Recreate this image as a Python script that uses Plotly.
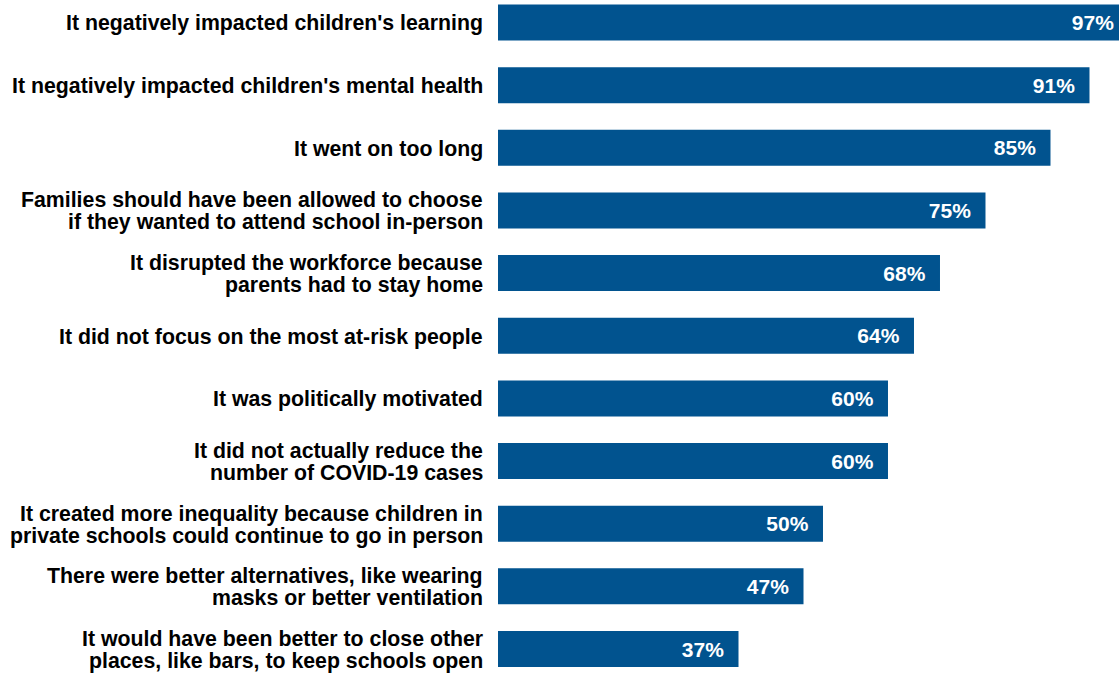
import plotly.graph_objects as go

# Reasons respondents gave (top to bottom) and share agreeing, in percent
reasons = [
    "It negatively impacted children's learning",
    "It negatively impacted children's mental health",
    "It went on too long",
    "Families should have been allowed to choose|if they wanted to attend school in-person",
    "It disrupted the workforce because|parents had to stay home",
    "It did not focus on the most at-risk people",
    "It was politically motivated",
    "It did not actually reduce the|number of COVID-19 cases",
    "It created more inequality because children in|private schools could continue to go in person",
    "There were better alternatives, like wearing|masks or better ventilation",
    "It would have been better to close other|places, like bars, to keep schools open",
]
shares = [97, 91, 85, 75, 68, 64, 60, 60, 50, 47, 37]

BAR_COLOR = "#01538F"
FONT = "Liberation Sans"
NBSP = "\u00a0"

fig = go.Figure(
    go.Bar(
        x=shares,
        y=list(range(len(reasons))),
        orientation="h",
        marker=dict(color=BAR_COLOR, line=dict(width=0)),
        width=0.575,
        # trailing no-break spaces pad the value away from the bar end
        text=[f"{v}%" + NBSP * 2 for v in shares],
        textposition="inside",
        insidetextanchor="end",
        textangle=0,
        textfont=dict(family=FONT, size=21, color="white", weight="bold"),
        hoverinfo="skip",
    )
)

# Category labels, one annotation per text line for tight line spacing
LINE_GAP = 22
annotations = []
for i, label in enumerate(reasons):
    lines = label.split("|")
    n = len(lines)
    for j, line in enumerate(lines):
        annotations.append(
            dict(
                text=line,
                xref="paper",
                x=0,
                xanchor="right",
                xshift=-13,
                yref="y",
                y=i,
                yanchor="middle",
                yshift=((n - 1) / 2 - j) * LINE_GAP - 1,
                showarrow=False,
                align="right",
                font=dict(family=FONT, size=21.3, color="black", weight="bold"),
            )
        )

fig.update_layout(
    width=1119,
    height=675,
    margin=dict(l=498, r=0, t=0, b=0),
    paper_bgcolor="white",
    plot_bgcolor="white",
    showlegend=False,
    annotations=annotations,
    xaxis=dict(
        range=[0, 95.54],
        showgrid=False,
        zeroline=False,
        showticklabels=False,
        showline=False,
        fixedrange=True,
    ),
    yaxis=dict(
        range=[10.415, -0.359],
        showgrid=False,
        zeroline=False,
        showticklabels=False,
        showline=False,
        fixedrange=True,
    ),
)

fig.write_html("out.html", config={"displayModeBar": False})
